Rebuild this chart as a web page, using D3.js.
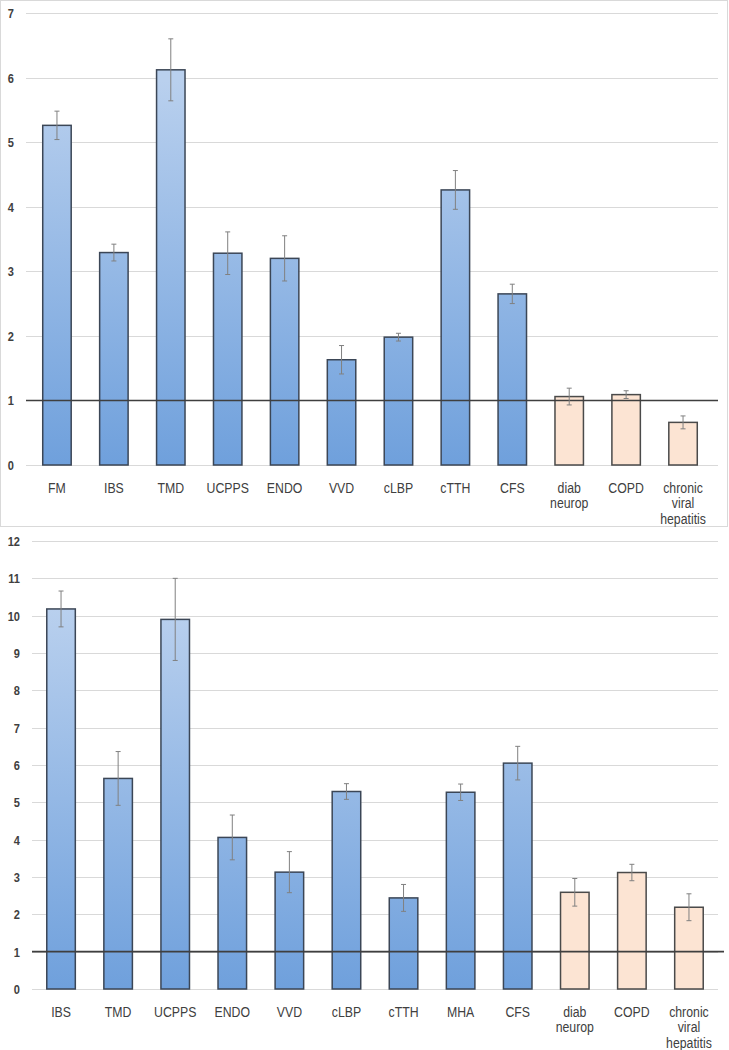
<!DOCTYPE html>
<html>
<head>
<meta charset="utf-8">
<script src="https://cdn.jsdelivr.net/npm/d3@7"></script>
<style>
  body { margin: 0; background: #fff; }
  svg { display: block; }
  text { font-family: "Liberation Sans", Arial, sans-serif; fill: #404040; }
</style>
</head>
<body>
<svg id="chart" width="729" height="1050"></svg>
<script>
// ---- Panel A data ----
const catsA = ["FM", "IBS", "TMD", "UCPPS", "ENDO", "VVD", "cLBP", "cTTH", "CFS", "diab\nneurop", "COPD", "chronic\nviral\nhepatitis"];
const valsA = [5.26, 3.29, 6.12, 3.28, 3.20, 1.63, 1.98, 4.26, 2.65, 1.06, 1.09, 0.66];
const errA  = [0.22, 0.13, 0.48, 0.33, 0.35, 0.22, 0.06, 0.30, 0.15, 0.13, 0.06, 0.10];
const groupA = ["pain","pain","pain","pain","pain","pain","pain","pain","pain","ctrl","ctrl","ctrl"];
const ticksA = [0, 1, 2, 3, 4, 5, 6, 7];

// ---- Panel B data ----
const catsB = ["IBS", "TMD", "UCPPS", "ENDO", "VVD", "cLBP", "cTTH", "MHA", "CFS", "diab\nneurop", "COPD", "chronic\nviral\nhepatitis"];
const valsB = [10.18, 5.64, 9.90, 4.06, 3.13, 5.29, 2.44, 5.27, 6.05, 2.59, 3.12, 2.19];
const errB  = [0.48, 0.72, 1.10, 0.60, 0.55, 0.21, 0.36, 0.22, 0.45, 0.37, 0.22, 0.36];
const groupB = ["pain","pain","pain","pain","pain","pain","pain","pain","pain","ctrl","ctrl","ctrl"];
const ticksB = [0, 1, 2, 3, 4, 5, 6, 7, 8, 9, 10, 11, 12];

const refValue = 1;

const svg = d3.select("#chart");
const defs = svg.append("defs");

// Frame of top panel
svg.append("rect").attr("x", 0.5).attr("y", 0.5).attr("width", 727).attr("height", 526)
  .attr("fill", "none").attr("stroke", "#d9d9d9").attr("stroke-width", 1);

function drawPanel(cfg) {
  const g = svg.append("g");
  const x = d3.scaleBand().domain(cfg.cats).range([cfg.x0, cfg.x1]).paddingInner(0.5).paddingOuter(0.25);
  const y = d3.scaleLinear().domain([0, cfg.ticks[cfg.ticks.length - 1]]).range([cfg.y0, cfg.yTop]);

  const gradId = cfg.id + "Grad";
  const gr = defs.append("linearGradient").attr("id", gradId)
    .attr("gradientUnits", "userSpaceOnUse")
    .attr("x1", 0).attr("x2", 0).attr("y1", y(cfg.ticks[cfg.ticks.length - 1] * 0.85)).attr("y2", cfg.y0);
  gr.append("stop").attr("offset", "0%").attr("stop-color", "#b9d0ee");
  gr.append("stop").attr("offset", "100%").attr("stop-color", "#6fa0dc");

  // gridlines
  g.append("g").selectAll("line").data(cfg.ticks).join("line")
    .attr("x1", cfg.gx0).attr("x2", cfg.gx1)
    .attr("y1", d => Math.round(y(d)) + 0.5).attr("y2", d => Math.round(y(d)) + 0.5)
    .attr("stroke", "#d9d9d9").attr("stroke-width", 1);

  // y axis labels
  const yAxis = d3.axisLeft(y).tickValues(cfg.ticks).tickFormat(d3.format("d")).tickSize(0).tickPadding(0);
  const ya = g.append("g").attr("transform", `translate(${cfg.labelX},0)`).call(yAxis);
  ya.select(".domain").remove();
  ya.selectAll("text").attr("font-size", 13).attr("font-weight", "bold")
    .style("font-family", "'Liberation Sans', sans-serif").attr("fill", "#404040")
    .attr("text-anchor", "end").attr("x", 0).attr("dy", "0.35em")
    .attr("transform", "scale(0.85,1)");

  const idx = cfg.cats.map((c, i) => i);

  // bars
  g.append("g").selectAll("rect").data(idx).join("rect")
    .attr("x", i => x(cfg.cats[i]))
    .attr("width", x.bandwidth())
    .attr("y", i => y(cfg.vals[i]))
    .attr("height", i => y(0) - y(cfg.vals[i]))
    .attr("fill", i => cfg.group[i] === "pain" ? `url(#${gradId})` : "#fce4d3")
    .attr("stroke", i => cfg.group[i] === "pain" ? "#3b4656" : "#4a4a4a")
    .attr("stroke-width", 1.5);

  // reference line at 1
  g.append("line")
    .attr("x1", cfg.gx0).attr("x2", cfg.refX1)
    .attr("y1", y(refValue)).attr("y2", y(refValue))
    .attr("stroke", "#3f3f3f").attr("stroke-width", 1.6);

  // error bars
  const eb = g.append("g").attr("stroke", "#808080").attr("stroke-width", 1);
  const cx = i => x(cfg.cats[i]) + x.bandwidth() / 2;
  eb.selectAll("line.v").data(idx).join("line").attr("class", "v")
    .attr("x1", cx).attr("x2", cx)
    .attr("y1", i => y(cfg.vals[i] + cfg.err[i]))
    .attr("y2", i => y(cfg.vals[i] - cfg.err[i]));
  eb.selectAll("line.t").data(idx).join("line").attr("class", "t")
    .attr("x1", i => cx(i) - 2.5).attr("x2", i => cx(i) + 2.5)
    .attr("y1", i => y(cfg.vals[i] + cfg.err[i]))
    .attr("y2", i => y(cfg.vals[i] + cfg.err[i]));
  eb.selectAll("line.b").data(idx).join("line").attr("class", "b")
    .attr("x1", i => cx(i) - 2.5).attr("x2", i => cx(i) + 2.5)
    .attr("y1", i => y(cfg.vals[i] - cfg.err[i]))
    .attr("y2", i => y(cfg.vals[i] - cfg.err[i]));

  // category labels
  const xAxis = d3.axisBottom(x).tickSize(0).tickPadding(0);
  const xa = g.append("g").attr("transform", `translate(0,${cfg.y0})`).call(xAxis);
  xa.select(".domain").remove();
  xa.selectAll(".tick text").each(function(d) {
    const t = d3.select(this);
    const lines = d.split("\n");
    t.text(null).attr("y", 0).attr("dy", null)
      .attr("font-size", 15)
      .style("font-family", "'Liberation Sans', sans-serif")
      .attr("fill", "#404040")
      .attr("transform", "scale(0.82,1)");
    lines.forEach((ln, k) => {
      t.append("tspan").attr("x", 0).attr("y", 28 + k * 15.5).text(ln);
    });
  });
}

drawPanel({ id: "a", cats: catsA, vals: valsA, err: errA, group: groupA, ticks: ticksA,
  x0: 28.5, x1: 711.5, gx0: 26, gx1: 718, y0: 465, yTop: 13, labelX: 14, refX1: 718 });
drawPanel({ id: "b", cats: catsB, vals: valsB, err: errB, group: groupB, ticks: ticksB,
  x0: 32.5, x1: 717.5, gx0: 32, gx1: 718, y0: 989, yTop: 541, labelX: 20, refX1: 724 });
</script>
</body>
</html>
